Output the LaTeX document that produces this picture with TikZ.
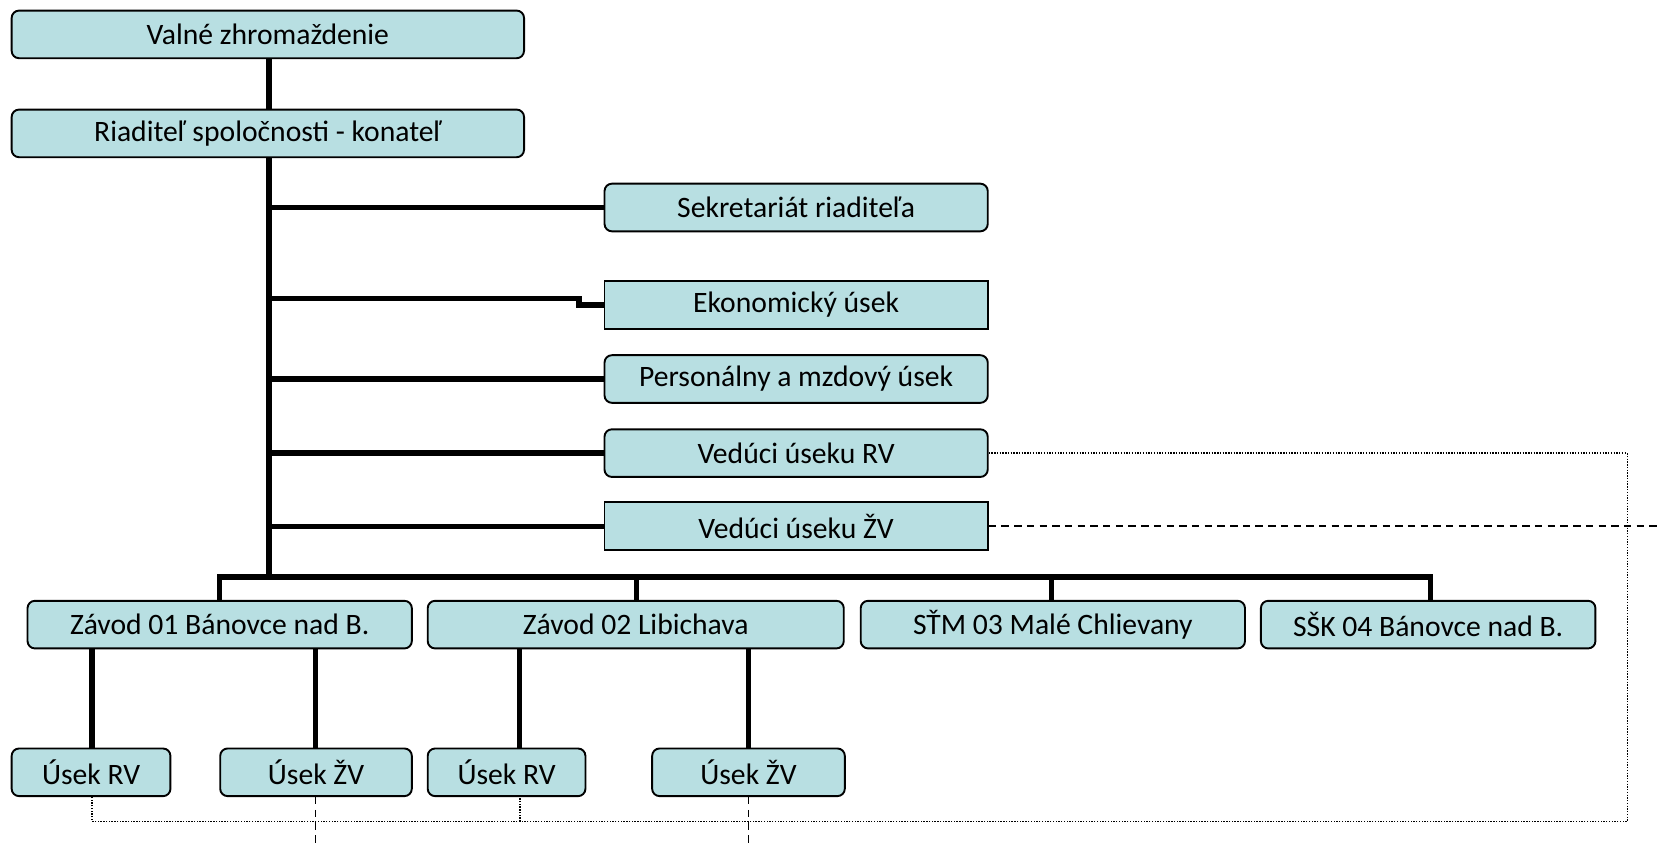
\documentclass[tikz,border=0pt]{standalone}
\usepackage{fontspec}
\setmainfont{Carlito}
\usetikzlibrary{backgrounds}
\definecolor{boxfill}{HTML}{B8DFE2}
\tikzset{
  orgbox/.style={draw=black, line width=1.8pt, fill=boxfill, rounded corners=7pt,
    inner sep=0pt, minimum height=45pt, font=\fontsize{28}{33}\selectfont, anchor=center},
  sharpbox/.style={orgbox, sharp corners},
  link/.style={line width=5pt, line cap=rect},
  dotlink/.style={line width=1.3pt, dash pattern=on 1.3pt off 1.3pt},
  dashlink/.style={line width=1.5pt, dash pattern=on 7pt off 5pt}
}
\begin{document}
\begin{tikzpicture}[x=1pt, y=-1pt]
\useasboundingbox (0,0) rectangle (1568,798);

% top of the hierarchy
\node[orgbox, minimum width=484pt] (valne) at (253,32.5) {Valné zhromaždenie};
\node[orgbox, minimum width=484pt] (riad) at (253,126) {Riaditeľ spoločnosti - konateľ};

% staff departments
\node[orgbox, minimum width=362pt] (sekr) at (752,196) {Sekretariát riaditeľa};
\node[sharpbox, minimum width=362pt] (ekon) at (752,288) {Ekonomický úsek};
\node[orgbox, minimum width=362pt] (pers) at (752,358) {Personálny a mzdový úsek};
\node[orgbox, minimum width=362pt] (vrv) at (752,428) {Vedúci úseku RV};
\node[sharpbox, minimum width=362pt] (vzv) at (752,497) {Vedúci úseku ŽV};

% plants
\node[orgbox, minimum width=363pt] (z01) at (207.5,590) {Závod 01 Bánovce nad B.};
\node[orgbox, minimum width=393pt] (z02) at (600.5,590) {Závod 02 Libichava};
\node[orgbox, minimum width=363pt] (stm) at (994.5,590) {SŤM 03 Malé Chlievany};
\node[orgbox, minimum width=316pt] (ssk) at (1349,590) {SŠK 04 Bánovce nad B.};

% plant sections
\node[orgbox, minimum width=150pt] (u1) at (86,729.5) {Úsek RV};
\node[orgbox, minimum width=181pt] (u2) at (298.5,729.5) {Úsek ŽV};
\node[orgbox, minimum width=149pt] (u3) at (478.5,729.5) {Úsek RV};
\node[orgbox, minimum width=182pt] (u4) at (707,729.5) {Úsek ŽV};

% junction points
\coordinate (bus) at (254,545);
\coordinate (busL) at (207,545);
\coordinate (busR) at (1351,545);
\coordinate (ekonStep) at (547,282);
\coordinate (rvCorner) at (1537,428);
\coordinate (rvBottom) at (1537,776);
\coordinate (rvLeft) at (87,776);
\coordinate (zvEnd) at (1568,497);

\begin{scope}[on background layer]
% solid hierarchy lines
\draw[link] (valne.south -| bus) -- (riad.north -| bus);
\draw[link] (riad.south -| bus) -- (bus);
\draw[link] (sekr.west -| bus) -- (sekr.west);
\draw[link] (ekonStep -| bus) -- (ekonStep) |- (ekon.west);
\draw[link] (pers.west -| bus) -- (pers.west);
\draw[link] (vrv.west -| bus) -- (vrv.west);
\draw[link] (vzv.west -| bus) -- (vzv.west);
\draw[link] (busL) -- (busR);
\draw[link] (busL) -- (z01.north -| busL);
\draw[link] (601,545) -- (z02.north -| 601,0);
\draw[link] (993,545) -- (stm.north -| 993,0);
\draw[link] (busR) -- (ssk.north -| busR);
\draw[link] (z01.south -| 87,0) -- (u1.north -| 87,0);
\draw[link] (z01.south -| 298,0) -- (u2.north -| 298,0);
\draw[link] (z02.south -| 491,0) -- (u3.north -| 491,0);
\draw[link] (z02.south -| 707,0) -- (u4.north -| 707,0);

% dotted line: crop production links
\draw[dotlink] (vrv.east) -- (rvCorner) -- (rvBottom) -- (rvLeft) -- (u1.south -| rvLeft);
\draw[dotlink] (491,776) -- (u3.south -| 491,0);

% dashed line: livestock production links
\draw[dashlink] (vzv.east) -- (zvEnd);
\draw[dashlink] (u2.south -| 298,0) -- (298,798);
\draw[dashlink] (u4.south -| 707,0) -- (707,798);
\end{scope}
\end{tikzpicture}
\end{document}
